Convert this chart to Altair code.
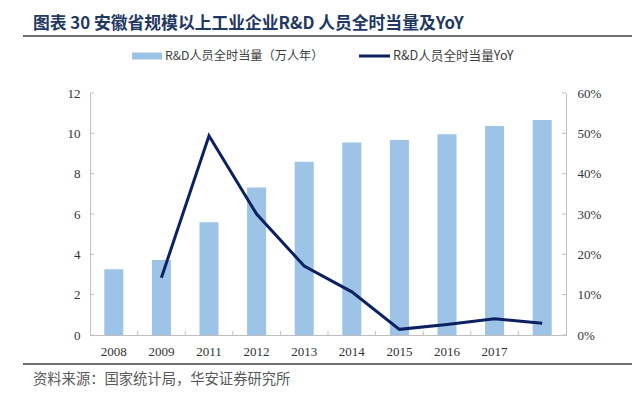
import altair as alt
import pandas as pd

categories = ["2008", "2009", "2011", "2012", "2013", "2014", "2015", "2016", "2017", " "]
rd_values = [3.26, 3.72, 5.59, 7.32, 8.59, 9.54, 9.67, 9.95, 10.36, 10.66]
yoy_values = [None, 0.142, 0.494, 0.300, 0.171, 0.107, 0.014, 0.026, 0.040, 0.029]
left_ticks = [0, 2, 4, 6, 8, 10, 12]
right_ticks = [0, 0.1, 0.2, 0.3, 0.4, 0.5, 0.6]

title_text = "图表 30 安徽省规模以上工业企业R&D 人员全时当量及YoY"
legend_bar = "R&D人员全时当量（万人年）"
legend_line = "R&D人员全时当量YoY"
source_text = "资料来源：国家统计局，华安证券研究所"

BAR = "#9DC3E6"
LINE = "#0B2160"
AX = "#BFBFBF"
CJK = "Noto Sans CJK SC"
SERIF = "Liberation Serif"
W, H = 476, 242

df = pd.DataFrame({"cat": categories, "rd": rd_values, "yoy": yoy_values})
line_df = df.dropna(subset=["yoy"])

xscale = alt.Scale(domain=categories, paddingInner=0, paddingOuter=0)
x_axis = alt.Axis(title=None, ticks=False, tickSize=0, labelPadding=10,
                  labelFont=SERIF, labelFontSize=13, labelColor="#333333",
                  domainColor=AX, labelAngle=0, grid=False)

bars = alt.Chart(df).mark_bar(width=alt.RelativeBandSize(0.4), color=BAR).encode(
    x=alt.X("cat:N", scale=xscale, axis=x_axis, sort=categories),
    y=alt.Y("rd:Q", scale=alt.Scale(domain=[0, 12], nice=False),
            axis=alt.Axis(title=None, values=left_ticks, ticks=False, tickSize=0,
                          labelPadding=10, labelFont=SERIF, labelFontSize=13,
                          labelColor="#333333", domainColor=AX, grid=False)),
)

line = alt.Chart(line_df).mark_line(color=LINE, strokeWidth=3).encode(
    x=alt.X("cat:N", scale=xscale, axis=x_axis, sort=categories),
    y=alt.Y("yoy:Q", scale=alt.Scale(domain=[0, 0.6], nice=False),
            axis=alt.Axis(title=None, orient="right", format=".0%", values=right_ticks,
                          ticks=False, tickSize=0, labelPadding=11, labelFont=SERIF,
                          labelFontSize=13, labelColor="#333333", domainColor=AX,
                          grid=False)),
)

xticks = alt.Chart(pd.DataFrame({"cat": categories[1:]})).mark_rule(color=AX).encode(
    x=alt.X("cat:N", scale=xscale, axis=x_axis, sort=categories, bandPosition=0),
    y=alt.value(H - 4), y2=alt.value(H),
)

lticks = alt.Chart(pd.DataFrame({"v": left_ticks})).mark_rule(color=AX).encode(
    y=alt.Y("v:Q", scale=alt.Scale(domain=[0, 12], nice=False), axis=None),
    x=alt.value(0), x2=alt.value(4),
)

rticks = alt.Chart(pd.DataFrame({"v": right_ticks})).mark_rule(color=AX).encode(
    y=alt.Y("v:Q", scale=alt.Scale(domain=[0, 0.6], nice=False), axis=None),
    x=alt.value(W - 4), x2=alt.value(W),
)


def text_layer(t, x, y, size, color, weight="normal"):
    return alt.Chart(pd.DataFrame({"t": [t]})).mark_text(
        align="left", baseline="middle", font=CJK, fontSize=size,
        fontWeight=weight, color=color,
    ).encode(x=alt.value(x), y=alt.value(y), text="t:N")


def hrule(x1, x2, y, color, width):
    return alt.Chart(pd.DataFrame({"a": [0]})).mark_rule(color=color, strokeWidth=width).encode(
        x=alt.value(x1), x2=alt.value(x2), y=alt.value(y))


title = text_layer(title_text, -57, -69, 16.8, "#1F3864", "bold")
top_rule = hrule(-67, 542, -57, "#404040", 1.5)
bottom_rule = hrule(-67, 542, 271, "#404040", 1.5)
source = text_layer(source_text, -57, 287, 14.3, "#595959")
leg_bar_sw = hrule(42, 72, -37, BAR, 7)
leg_bar_tx = text_layer(legend_bar, 75, -37, 12.2, "#404040")
leg_line_sw = hrule(269, 300, -37, LINE, 3)
leg_line_tx = text_layer(legend_line, 303, -37, 12.6, "#404040")

chart = alt.layer(
    bars, line, xticks, lticks, rticks,
    title, top_rule, bottom_rule, source,
    leg_bar_sw, leg_bar_tx, leg_line_sw, leg_line_tx,
).resolve_scale(y="independent").properties(
    width=W, height=H, autosize="none",
    padding={"left": 82, "top": 85, "right": 68, "bottom": 56},
).configure_view(stroke=None)

chart.save("out.html", embed_options={"renderer": "svg", "actions": False})
